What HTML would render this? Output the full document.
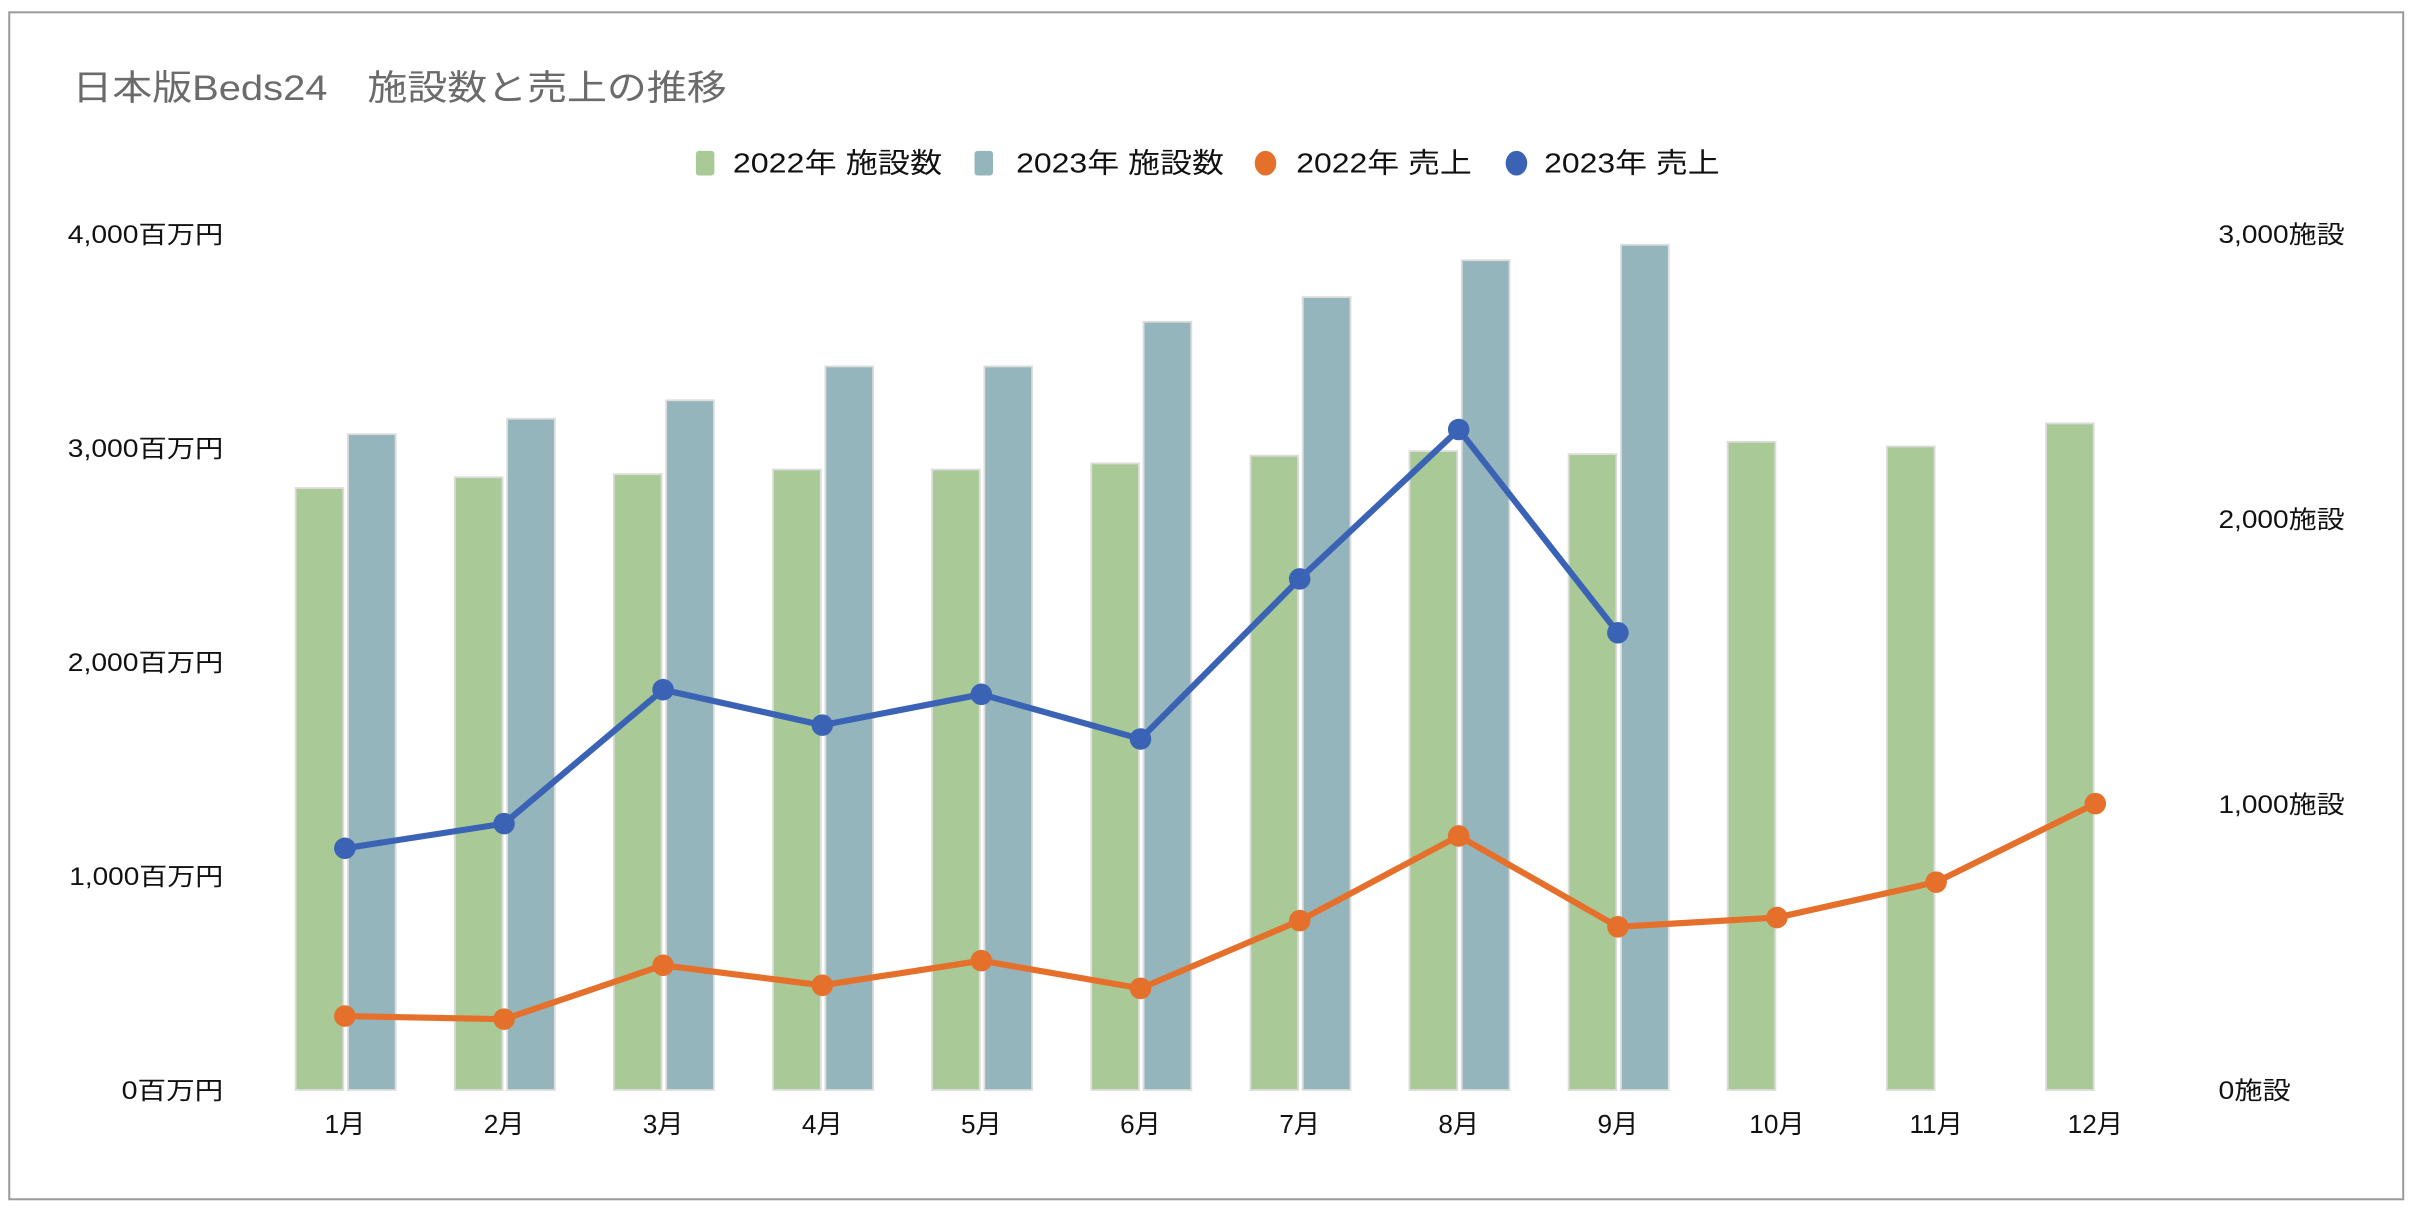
<!DOCTYPE html>
<html><head><meta charset="utf-8"><style>
html,body{margin:0;padding:0;background:#fff;}
svg{display:block;}
text{font-family:"Liberation Sans","Noto Sans CJK JP",sans-serif;}
</style></head><body>
<svg width="2414" height="1212" viewBox="0 0 1568 787.26" xmlns="http://www.w3.org/2000/svg">
<rect x="0" y="0" width="1568" height="787.26" fill="#fff"/>
<rect x="6" y="8" width="1555" height="771" fill="none" stroke="#9a9a9a" stroke-width="1.3"/>
<text x="47" y="65" font-size="23" fill="#6b6b6b" textLength="425" lengthAdjust="spacingAndGlyphs">日本版Beds24　施設数と売上の推移</text>
<!-- legend -->
<g font-size="18" fill="#111">
<rect x="452" y="98" width="12" height="16" rx="2" fill="#a9ca97"/>
<text x="476" y="112" textLength="136" lengthAdjust="spacingAndGlyphs">2022年 施設数</text>
<rect x="633" y="98" width="12" height="16" rx="2" fill="#94b5bb"/>
<text x="660" y="112" textLength="135" lengthAdjust="spacingAndGlyphs">2023年 施設数</text>
<ellipse cx="822" cy="106" rx="7" ry="8" fill="#e5702b"/>
<text x="842" y="112" textLength="114" lengthAdjust="spacingAndGlyphs">2022年 売上</text>
<ellipse cx="985" cy="106" rx="7" ry="8" fill="#3b63b5"/>
<text x="1003" y="112" textLength="114" lengthAdjust="spacingAndGlyphs">2023年 売上</text>
</g>
<!-- left axis -->
<g font-size="16" fill="#111" text-anchor="end">
<text x="145" y="158" textLength="101" lengthAdjust="spacingAndGlyphs">4,000百万円</text>
<text x="145" y="297" textLength="101" lengthAdjust="spacingAndGlyphs">3,000百万円</text>
<text x="145" y="436" textLength="101" lengthAdjust="spacingAndGlyphs">2,000百万円</text>
<text x="145" y="575" textLength="100" lengthAdjust="spacingAndGlyphs">1,000百万円</text>
<text x="145" y="714" textLength="66" lengthAdjust="spacingAndGlyphs">0百万円</text>
</g>
<!-- right axis -->
<g font-size="16" fill="#111">
<text x="1441" y="158" textLength="82" lengthAdjust="spacingAndGlyphs">3,000施設</text>
<text x="1441" y="343" textLength="82" lengthAdjust="spacingAndGlyphs">2,000施設</text>
<text x="1441" y="528" textLength="82" lengthAdjust="spacingAndGlyphs">1,000施設</text>
<text x="1441" y="714" textLength="47" lengthAdjust="spacingAndGlyphs">0施設</text>
</g>
<!-- bars -->
<g stroke="#dcdcdc" stroke-width="1.2">
<g fill="#a9ca97">
<rect x="192" y="317" width="31" height="391"/>
<rect x="295.4" y="310" width="31" height="398"/>
<rect x="398.7" y="308" width="31" height="400"/>
<rect x="502.1" y="305" width="31" height="403"/>
<rect x="605.4" y="305" width="31" height="403"/>
<rect x="708.8" y="301" width="31" height="407"/>
<rect x="812.2" y="296" width="31" height="412"/>
<rect x="915.5" y="293" width="31" height="415"/>
<rect x="1018.9" y="295" width="31" height="413"/>
<rect x="1122.2" y="287" width="31" height="421"/>
<rect x="1225.6" y="290" width="31" height="418"/>
<rect x="1329" y="275" width="31" height="433"/>
</g>
<g fill="#94b5bb">
<rect x="226" y="282" width="31" height="426"/>
<rect x="329.4" y="272" width="31" height="436"/>
<rect x="432.7" y="260" width="31" height="448"/>
<rect x="536.1" y="238" width="31" height="470"/>
<rect x="639.4" y="238" width="31" height="470"/>
<rect x="742.8" y="209" width="31" height="499"/>
<rect x="846.2" y="193" width="31" height="515"/>
<rect x="949.5" y="169" width="31" height="539"/>
<rect x="1052.9" y="159" width="31" height="549"/>
</g>
</g>
<!-- 2023 line -->
<polyline fill="none" stroke="#3b63b5" stroke-width="4" stroke-linejoin="round" points="224,551 327.4,535 430.7,448 534.1,471 637.4,451 740.8,480 844.2,376 947.5,279 1050.9,411"/>
<g fill="#3b63b5">
<circle cx="224" cy="551" r="7"/><circle cx="327.4" cy="535" r="7"/><circle cx="430.7" cy="448" r="7"/><circle cx="534.1" cy="471" r="7"/><circle cx="637.4" cy="451" r="7"/><circle cx="740.8" cy="480" r="7"/><circle cx="844.2" cy="376" r="7"/><circle cx="947.5" cy="279" r="7"/><circle cx="1050.9" cy="411" r="7"/>
</g>
<!-- 2022 line -->
<polyline fill="none" stroke="#e5702b" stroke-width="4" stroke-linejoin="round" points="224,660 327.4,662 430.7,627 534.1,640 637.4,624 740.8,642 844.2,598 947.5,543 1050.9,602 1154.2,596 1257.6,573 1361,522"/>
<g fill="#e5702b">
<circle cx="224" cy="660" r="7"/><circle cx="327.4" cy="662" r="7"/><circle cx="430.7" cy="627" r="7"/><circle cx="534.1" cy="640" r="7"/><circle cx="637.4" cy="624" r="7"/><circle cx="740.8" cy="642" r="7"/><circle cx="844.2" cy="598" r="7"/><circle cx="947.5" cy="543" r="7"/><circle cx="1050.9" cy="602" r="7"/><circle cx="1154.2" cy="596" r="7"/><circle cx="1257.6" cy="573" r="7"/><circle cx="1361" cy="522" r="7"/>
</g>
<!-- x labels -->
<g font-size="17" fill="#111" text-anchor="middle">
<text x="224" y="736">1月</text><text x="327.4" y="736">2月</text><text x="430.7" y="736">3月</text><text x="534.1" y="736">4月</text><text x="637.4" y="736">5月</text><text x="740.8" y="736">6月</text><text x="844.2" y="736">7月</text><text x="947.5" y="736">8月</text><text x="1050.9" y="736">9月</text><text x="1154.2" y="736">10月</text><text x="1257.6" y="736">11月</text><text x="1361" y="736">12月</text>
</g>
</svg>
</body></html>
